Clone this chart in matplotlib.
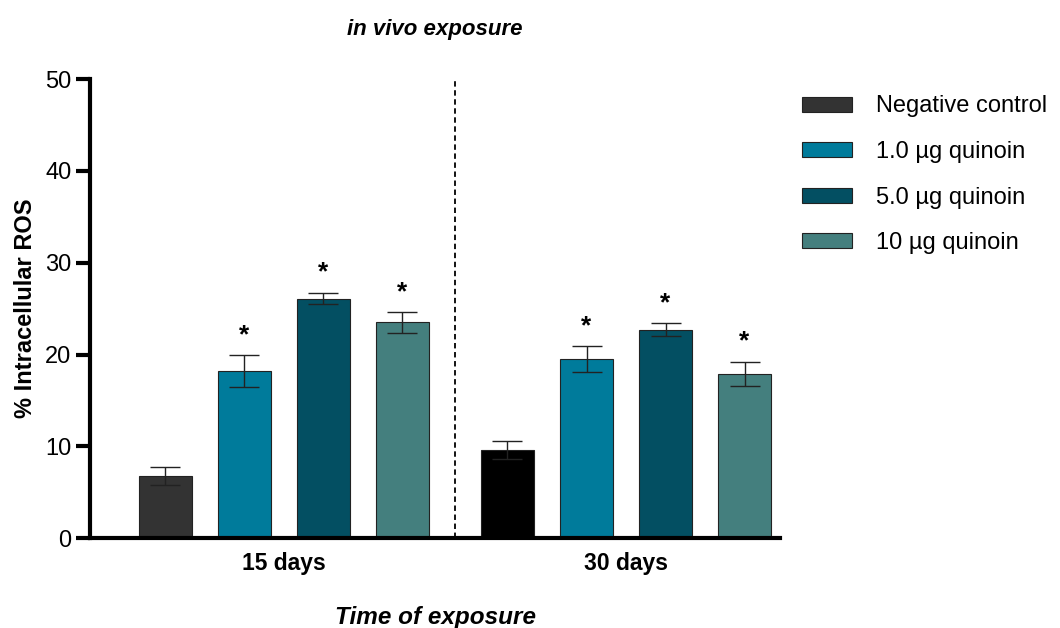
import numpy as np
import matplotlib
matplotlib.use("Agg")
import matplotlib.pyplot as plt
from matplotlib.patches import Patch

plt.rcParams['font.family'] = ['Liberation Sans', 'DejaVu Sans']

# ------------------------------------------
# Data
# ------------------------------------------
groups = ["15 days", "30 days"]
treatments = ["Negative control", "1.0 µg quinoin", "5.0 µg quinoin", "10 µg quinoin"]
ros_15 = [6.8, 18.2, 26.1, 23.5]
err_15 = [1.0, 1.7, 0.6, 1.1]
ros_30 = [9.6, 19.5, 22.7, 17.9]
err_30 = [1.0, 1.4, 0.7, 1.3]
signif_15 = ["", "*", "*", "*"]
signif_30 = ["", "*", "*", "*"]

colors_15 = ["#333333", "#007b9b", "#034f62", "#447f7e"]
colors_30 = ["#000000", "#007b9b", "#034f62", "#447f7e"]

# ------------------------------------------
# Plot
# ------------------------------------------
fig = plt.figure(figsize=(10.6, 6.28), dpi=100)
ax = fig.add_axes([0.085, 0.143, 0.651, 0.731])

x15 = np.arange(4)
x30 = np.arange(4) + 4.33
width = 0.67

for xs, vals, errs, cols, sig in [(x15, ros_15, err_15, colors_15, signif_15),
                                  (x30, ros_30, err_30, colors_30, signif_30)]:
    ax.bar(xs, vals, width, color=cols, edgecolor="#222222", linewidth=0.8, zorder=2)
    ax.errorbar(xs, vals, yerr=errs, fmt="none", ecolor="#222222",
                elinewidth=1.0, capsize=11, capthick=1.0, zorder=3)
    for x, v, e, s in zip(xs, vals, errs, sig):
        if s:
            ax.text(x, v + e + 0.9, s, ha="center", va="bottom",
                    fontsize=19, fontweight="bold")

ax.axvline(3.67, color="black", linestyle=(0, (3, 2)), linewidth=1.3)

ax.set_xlim(-0.95, 7.78)
ax.set_ylim(0, 50)
ax.set_yticks([0, 10, 20, 30, 40, 50])
ax.set_xticks([1.5, 5.83])
ax.set_xticklabels(groups, fontsize=16.5, fontweight="bold")
ax.tick_params(axis="y", labelsize=17, width=3, length=10)
ax.tick_params(axis="x", length=0, pad=10)

ax.spines["top"].set_visible(False)
ax.spines["right"].set_visible(False)
ax.spines["left"].set_linewidth(3)
ax.spines["bottom"].set_linewidth(3)

ax.set_ylabel("% Intracellular ROS", fontsize=17, fontweight="bold", labelpad=6)
ax.set_xlabel("Time of exposure", fontsize=17.5, fontweight="bold", style="italic", labelpad=22)
ax.set_title("in vivo exposure", fontsize=16, fontweight="bold", style="italic", pad=32)

handles = [Patch(facecolor=c, edgecolor="#222222", linewidth=0.8) for c in colors_15]
fig.legend(handles, treatments, loc="upper left", bbox_to_anchor=(0.737, 0.882),
           frameon=False, fontsize=17, handlelength=2.1, handleheight=0.6,
           labelspacing=1.0, handletextpad=1.0)

fig.savefig("out.png", dpi=100)
